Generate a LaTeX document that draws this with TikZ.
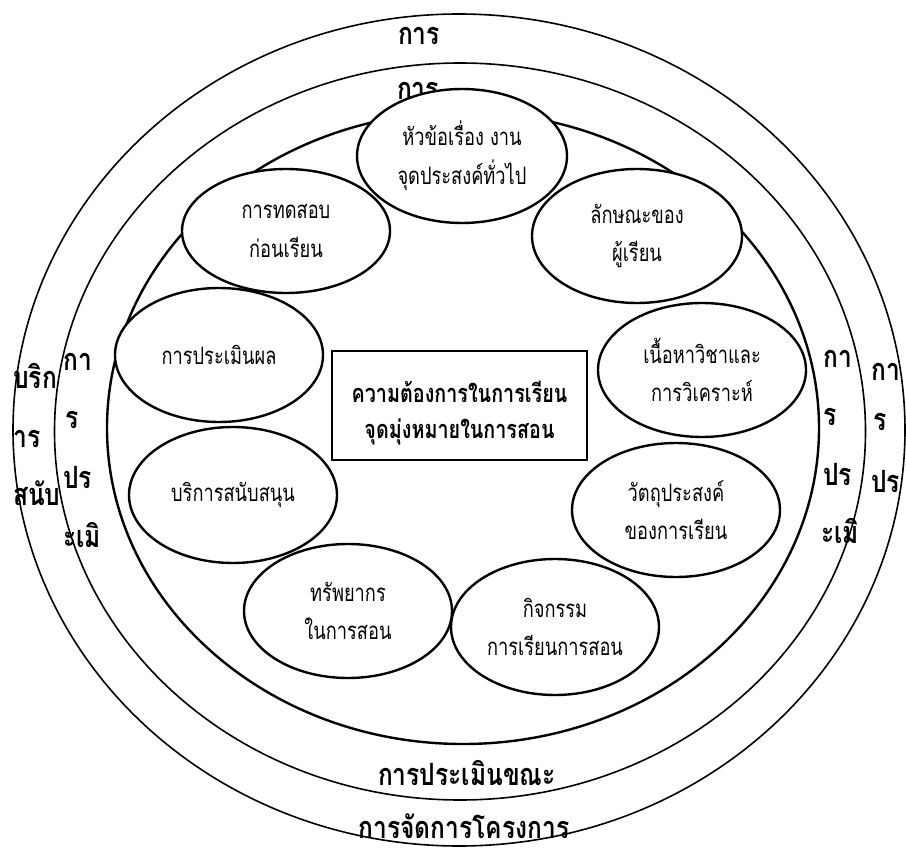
\documentclass[tikz,border=0pt]{standalone}
\usepackage{fontspec}
\usetikzlibrary{shapes.geometric}
\newfontfamily\thaibubble[Script=Thai,FakeStretch=0.76]{Loma}
\newfontfamily\thaibold[Script=Thai,FakeStretch=0.78]{Loma}
\newfontfamily\thairing[Script=Thai,FakeStretch=0.8]{Loma}

\tikzset{
  ring/.style={line width=1.2pt},
  innerring/.style={line width=1.8pt},
  bubble/.style={ellipse, draw, fill=white, line width=1.8pt, inner sep=0pt,
    align=center, minimum width=156pt, minimum height=100.5pt,
    font={\thaibubble\fontsize{18}{29}\selectfont}},
  core/.style={rectangle, draw, line width=1.4pt, fill=white, inner sep=0pt,
    minimum width=191pt, minimum height=82pt},
  coretext/.style={inner sep=0pt, align=center,
    font={\thaibold\bfseries\fontsize{19}{26.5}\selectfont}},
  ringtext/.style={inner sep=0pt, anchor=base west,
    font={\thairing\bfseries\fontsize{23}{26}\selectfont}},
  ringmid/.style={inner sep=0pt, anchor=base,
    font={\thairing\bfseries\fontsize{23}{26}\selectfont}}
}

\begin{document}
\begin{tikzpicture}[x=0.75pt,y=-0.75pt]
\useasboundingbox (0,0) rectangle (906,852);

% three concentric rings
\draw[ring] (459,430) ellipse [x radius=446, y radius=416];
\draw[ring] (460,431.5) ellipse [x radius=405.5, y radius=368.5];
\draw[innerring] (463,428) ellipse [x radius=356, y radius=316];

% labels of the outer ring
\node[ringmid] (outtop) at (419,45) {การ};
\node[ringmid] (outbot) at (464,838) {การจัดการโครงการ};
\node[ringtext] (outl1) at (13,388) {บริก};
\node[ringtext] (outl2) at (13,447) {าร};
\node[ringtext] (outl3) at (13,505) {สนับ};
\node[ringtext] (outr1) at (871,380) {กา};
\node[ringtext] (outr2) at (873,430) {ร};
\node[ringtext] (outr3) at (871,492) {ปร};

% labels of the middle ring
\node[ringmid] (midtop) at (418,100) {การ};
\node[ringmid] (midbot) at (467,785) {การประเมินขณะ};
\node[ringtext] (midl1) at (63,370) {กา};
\node[ringtext] (midl2) at (65,428) {ร};
\node[ringtext] (midl3) at (63,488) {ปร};
\node[ringtext] (midl4) at (63,547) {ะเมิ};
\node[ringtext] (midr1) at (823,367) {กา};
\node[ringtext] (midr2) at (823,425) {ร};
\node[ringtext] (midr3) at (823,485) {ปร};
\node[ringtext] (midr4) at (821,543) {ะเมิ};

% centre box
\node[core] (needs) at (459.5,405.5) {};
\node[coretext] (needslabel) at (459.5,413) {ความต้องการในการเรียน\\จุดมุ่งหมายในการสอน};

% the nine components around the centre
\node[bubble, minimum width=157.5pt] (topic) at (462,156) {หัวข้อเรื่อง งาน\\จุดประสงค์ทั่วไป};
\node[bubble, minimum height=93pt] (pretest) at (286,231) {การทดสอบ\\ก่อนเรียน};
\node[bubble, minimum width=157.5pt] (learner) at (637,236) {ลักษณะของ\\ผู้เรียน};
\node[bubble] (content) at (702,370) {เนื้อหาวิชาและ\\การวิเคราะห์};
\node[bubble] (objective) at (676,510) {วัตถุประสงค์\\ของการเรียน};
\node[bubble, minimum height=102pt] (activity) at (555,627) {กิจกรรม\\การเรียนการสอน};
\node[bubble] (resource) at (348,611) {ทรัพยากร\\ในการสอน};
\node[bubble, minimum height=102pt] (support) at (233,495) {บริการสนับสนุน};
\node[bubble] (evaluate) at (219,355) {การประเมินผล};
\end{tikzpicture}
\end{document}
